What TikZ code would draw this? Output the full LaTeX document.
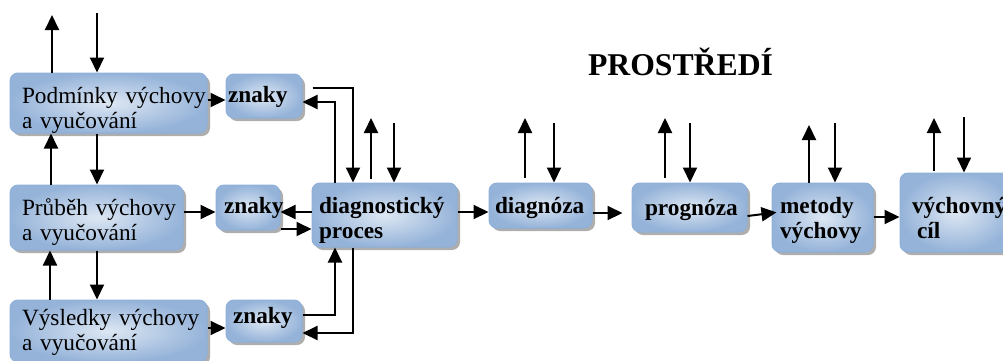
\documentclass[tikz,border=0pt]{standalone}
\usepackage{fontspec}
\setmainfont{Liberation Serif}
\usetikzlibrary{arrows.meta,shadows}
\definecolor{boxlight}{HTML}{DDE7F3}
\definecolor{boxdark}{HTML}{95B3D9}
\definecolor{boxedge}{HTML}{8FB0D9}
\tikzset{
  box/.style={draw=boxedge, line width=1pt, rounded corners=8pt,
    inner color=boxlight, outer color=boxdark,
    drop shadow={shadow xshift=3pt, shadow yshift=-3pt, fill=black!45, opacity=.7},
    inner xsep=0pt, inner ysep=0pt, align=left, font=\fontsize{23.3}{25}\selectfont},
  boldbox/.style={box, font=\fontsize{23.3}{25}\selectfont\bfseries},
  pad/.style={execute at begin node={\leftskip=#1pt\relax}},
  arr/.style={line width=2pt, -{Triangle[length=15pt,width=14pt]}}
}
\begin{document}
\begin{tikzpicture}[x=1pt,y=-1pt]
\useasboundingbox (0,0) rectangle (1003,360);

\node[box, pad=12, text width=197pt, minimum height=60pt, text height=30pt, text depth=30pt] (podminky) at (108.5,103) {Podmínky výchovy\\a vyučování};
\node[box, pad=12, text width=173pt, minimum height=65pt, text height=25pt, text depth=30pt] (prubeh) at (96.5,217.5) {Průběh výchovy\\a vyučování};
\node[box, pad=12, text width=197pt, minimum height=62pt, text height=18pt, text depth=30pt] (vysledky) at (108.5,331) {Výsledky výchovy\\a vyučování};

\node[boldbox, pad=2, text width=76pt, minimum height=44pt, text height=18pt, text depth=6pt] (znaky1) at (264,96) {znaky};
\node[boldbox, pad=8, text width=64pt, minimum height=45pt, text height=17pt, text depth=6pt] (znaky2) at (248,207.5) {znaky};
\node[boldbox, pad=7, text width=76pt, minimum height=42pt, text height=10pt, text depth=6pt] (znaky3) at (264,321) {znaky};

\node[boldbox, pad=7, text width=145pt, minimum height=64pt, text height=26pt, text depth=30pt] (diag) at (384.5,215) {diagnostický\\proces};
\node[boldbox, pad=6, text width=103pt, minimum height=45pt, text height=21pt, text depth=6pt] (diagnoza) at (540.5,205.5) {diagnóza};
\node[boldbox, pad=13, text width=115pt, minimum height=49pt, text height=21pt, text depth=6pt] (prognoza) at (689.5,207.5) {prognóza};
\node[boldbox, pad=8, text width=101pt, minimum height=69pt, text height=21pt, text depth=30pt] (metody) at (822.5,217.5) {metody\\výchovy};
\node[boldbox, pad=12, text width=113pt, minimum height=79pt, text height=31pt, text depth=30pt] (cil) at (956.5,212.5) {výchovný\\\hspace*{5pt}cíl};

\node[anchor=base, font=\fontsize{31.7}{34}\selectfont\bfseries] (prostredi) at (680.5,75) {PROSTŘEDÍ};

\coordinate (pUp) at (52,15);
\coordinate (pDn) at (97,13);
\coordinate (dUp) at (371,118);
\coordinate (dDn) at (394,123);
\coordinate (gUp) at (525,118);
\coordinate (gDn) at (554,123);
\coordinate (rUp) at (665,118);
\coordinate (rDn) at (690,123);
\coordinate (mUp) at (809,125);
\coordinate (mDn) at (835,123);
\coordinate (cUp) at (934,118);
\coordinate (cDn) at (964,117);

\draw[arr] (pUp |- podminky.north) -- (pUp);
\draw[arr] (pDn) -- (pDn |- podminky.north);
\draw[arr] ([xshift=-57.5pt]podminky.south |- prubeh.north) -- ([xshift=-57.5pt]podminky.south);
\draw[arr] ([xshift=-11.5pt]podminky.south) -- ([xshift=-11.5pt]podminky.south |- prubeh.north);
\draw[arr] ([xshift=-58.5pt]vysledky.north) -- ([xshift=-58.5pt]vysledky.north |- prubeh.south);
\draw[arr] ([xshift=-11.5pt]vysledky.north |- prubeh.south) -- ([xshift=-11.5pt]vysledky.north);

\draw[arr] ([yshift=-4pt]podminky.east |- znaky1.west) -- ([yshift=-4pt]znaky1.west);
\draw[arr] ([yshift=-4.5pt]prubeh.east |- znaky2.west) -- ([yshift=-4.5pt]znaky2.west);
\draw[arr] ([yshift=-7pt]vysledky.east |- znaky3.west) -- ([yshift=-7pt]znaky3.west);

\draw[arr] ([xshift=10pt,yshift=8pt]znaky1.east) -| ([xshift=-31.5pt]diag.north);
\draw[arr] ([xshift=-49.5pt]diag.north) |- ([yshift=-6pt]znaky1.east);
\draw[arr] ([yshift=3pt]diag.west) -- ([yshift=-4.5pt]znaky2.east);
\draw[arr] ([yshift=-21.5pt]znaky2.east) -- ([yshift=-14pt]diag.west);
\draw[arr] ([yshift=6pt]znaky3.east) -| ([xshift=-49.5pt]diag.south);
\draw[arr] ([xshift=-31.5pt]diag.south) |- ([yshift=-12pt]znaky3.east);

\draw[arr, shorten <=4pt] (dUp |- diag.north) -- (dUp);
\draw[arr] (dDn) -- (dDn |- diag.north);
\draw[arr, shorten <=5pt] (gUp |- diagnoza.north) -- (gUp);
\draw[arr] (gDn) -- (gDn |- diagnoza.north);
\draw[arr, shorten <=5pt] (rUp |- prognoza.north) -- (rUp);
\draw[arr] (rDn) -- (rDn |- prognoza.north);
\draw[arr] (mUp |- metody.north) -- (mUp);
\draw[arr] (mDn) -- (mDn |- metody.north);
\draw[arr, shorten <=2pt] (cUp |- cil.north) -- (cUp);
\draw[arr] (cDn) -- (cDn |- cil.north);

\draw[arr] ([yshift=3pt]diag.east) -- ([yshift=-6.5pt]diagnoza.west);
\draw[arr, shorten >=9pt] ([yshift=-7.5pt]diagnoza.east) -- ([yshift=-5.5pt]prognoza.west);
\draw[arr, shorten >=-5pt] ([yshift=-8.5pt]prognoza.east) -- ([yshift=4.5pt]metody.west);
\draw[arr] ([yshift=0.5pt]metody.east) -- ([yshift=-4.5pt]cil.west);
\end{tikzpicture}
\end{document}
